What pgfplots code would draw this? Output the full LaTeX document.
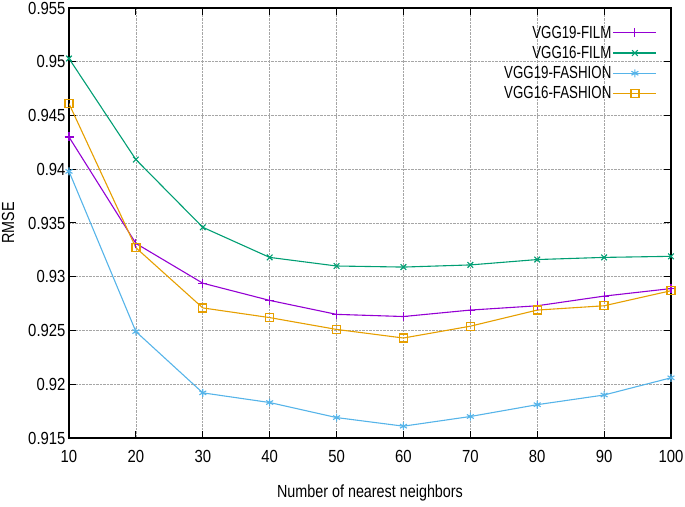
\documentclass[border=0pt]{standalone}
\usepackage{pgfplots}
\pgfplotsset{compat=1.18}
\usepackage{fontspec}
\setmainfont{Liberation Sans}[FakeStretch=0.82]
\newfontfamily\tickfont{Liberation Sans}[FakeStretch=0.85]
\newfontfamily\legfont{Liberation Sans}[FakeStretch=0.76]
\definecolor{c1}{HTML}{9400D3}
\definecolor{c2}{HTML}{009E73}
\definecolor{c3}{HTML}{56B4E9}
\definecolor{c4}{HTML}{E69F00}
\begin{document}
\begin{tikzpicture}
\useasboundingbox (0,0) rectangle (685pt,506pt);
\begin{axis}[
  at={(69pt,68pt)}, anchor=south west,
  scale only axis, width=602pt, height=430pt,
  xmin=10, xmax=100, ymin=0.915, ymax=0.955,
  xtick={10,20,...,100},
  ytick={0.915,0.92,0.925,0.93,0.935,0.94,0.945,0.95,0.955},
  yticklabels={0.915,0.92,0.925,0.93,0.935,0.94,0.945,0.95,0.955},
  scaled y ticks=false,
  /pgf/number format/assume math mode=true,
  font=\fontsize{17.5}{20}\selectfont,
  tick label style={font=\tickfont\fontsize{17.5}{20}\selectfont},
  label style={font=\fontsize{17.5}{20}\selectfont},
  tick align=inside, major tick length=7pt,
  axis line style={line width=1.2pt},
  every tick/.style={black, line width=1pt},
  grid=major,
  major grid style={densely dotted, gray!70, line width=0.6pt},
  xticklabel shift=9pt,
  xlabel={Number of nearest neighbors},
  ylabel={RMSE},
  xlabel style={at={(axis description cs:0.5,-0.128)}, anchor=center},
  ylabel style={at={(axis description cs:-0.101,0.5)}, anchor=center},
  legend plot pos=right,
  legend cell align=right,
  legend image code/.code={\draw[mark repeat=2,mark phase=2] plot coordinates {(0pt,0pt)(21.5pt,0pt)(43pt,0pt)};},
  legend style={draw=none, fill=none, at={(axis description cs:0.982,0.968)}, anchor=north east,
    font=\legfont\fontsize{17.5}{20}\selectfont,
    nodes={inner ysep=2pt, inner xsep=1.5pt}, row sep=2.5pt, column sep=0pt},
  every axis plot/.append style={line width=1.1pt},
]
\addplot[c1, mark=+, mark size=4.5pt] coordinates {
(10,0.9430)(20,0.9331)(30,0.9294)(40,0.9278)(50,0.9265)(60,0.9263)(70,0.9269)(80,0.9273)(90,0.9282)(100,0.9289)};
\addlegendentry{VGG19-FILM}
\addplot[c2, mark=x, mark size=4pt] coordinates {
(10,0.9503)(20,0.9409)(30,0.9346)(40,0.9318)(50,0.9310)(60,0.9309)(70,0.9311)(80,0.9316)(90,0.9318)(100,0.9319)};
\addlegendentry{VGG16-FILM}
\addplot[c3, mark=asterisk, mark size=4pt] coordinates {
(10,0.9398)(20,0.9249)(30,0.9192)(40,0.9183)(50,0.9169)(60,0.9161)(70,0.9170)(80,0.9181)(90,0.9190)(100,0.9206)};
\addlegendentry{VGG19-FASHION}
\addplot[c4, mark=square, mark size=4pt, mark options={line width=1.3pt}] coordinates {
(10,0.9461)(20,0.9327)(30,0.9271)(40,0.9262)(50,0.9251)(60,0.9243)(70,0.9254)(80,0.9269)(90,0.9273)(100,0.9287)};
\addlegendentry{VGG16-FASHION}
\end{axis}
\end{tikzpicture}
\end{document}
